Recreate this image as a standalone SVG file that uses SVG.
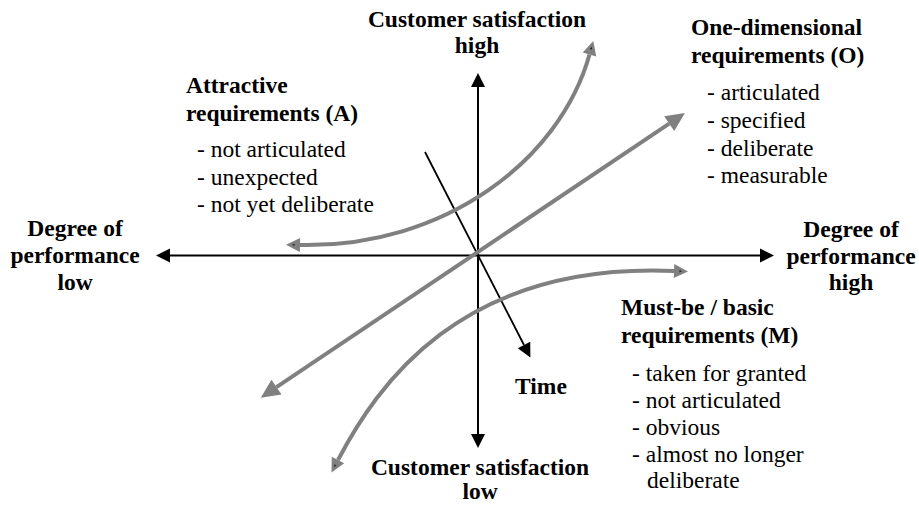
<svg xmlns="http://www.w3.org/2000/svg" width="919" height="505" viewBox="0 0 919 505" font-family="'Liberation Serif', 'DejaVu Serif', 'Noto Serif', serif">
  <style>
    text { font-family: 'Liberation Serif', 'DejaVu Serif', 'Noto Serif', serif; font-size: 23.5px; fill: #000; }
    .b { font-weight: bold; }
    .c { text-anchor: middle; }
    .ax { stroke: #000; stroke-width: 2; fill: none; }
    .tm { stroke: #000; stroke-width: 1.8; fill: none; }
    .g { stroke: #808080; stroke-width: 4; fill: none; }
  </style>
  <defs>
    <marker id="blk" markerUnits="userSpaceOnUse" markerWidth="16" markerHeight="16" viewBox="0 -8 15 16" refX="0" refY="0" orient="auto-start-reverse">
      <path d="M0,-7 L14,0 L0,7 Z" fill="#000"/>
    </marker>
    <marker id="gry" markerUnits="userSpaceOnUse" markerWidth="18" markerHeight="18" viewBox="-1 -9 17 18" refX="0" refY="0" orient="auto-start-reverse">
      <path d="M0,-7 L14,0 L0,7 Z" fill="#808080"/>
      <path d="M5.5,-1.2 L8,0 L5.5,1.2 Z" fill="#222"/>
    </marker>
    <marker id="gryL" markerUnits="userSpaceOnUse" markerWidth="22" markerHeight="22" viewBox="-1 -11 21 22" refX="0" refY="0" orient="auto-start-reverse">
      <path d="M0,-9 L19,0 L0,9 Z" fill="#808080"/>
    </marker>
  </defs>

  <g id="connectors">
    <line id="axis-h" class="ax" x1="170" y1="255.5" x2="760" y2="255.5" marker-start="url(#blk)" marker-end="url(#blk)"/>
    <line id="axis-v" class="ax" x1="478" y1="87" x2="478" y2="434" marker-start="url(#blk)" marker-end="url(#blk)"/>
    <line id="time-axis" class="tm" x1="425" y1="152" x2="524" y2="345" marker-end="url(#blk)"/>
    <line id="curve-O" class="g" x1="276.5" y1="387.1" x2="669.2" y2="123.6" marker-start="url(#gryL)" marker-end="url(#gryL)"/>
    <path id="curve-A" class="g" d="M300,245 C445,248 560,160 589.5,54.5" marker-start="url(#gry)" marker-end="url(#gry)"/>
    <path id="curve-M" class="g" d="M338,460 C377,386 460,262 674,271" marker-start="url(#gry)" marker-end="url(#gry)"/>
  </g>

  <g id="label-sat-high">
    <text class="b c" x="477" y="27">Customer satisfaction</text>
    <text class="b c" x="477" y="53">high</text>
  </g>
  <g id="label-sat-low">
    <text class="b c" x="480" y="475">Customer satisfaction</text>
    <text class="b c" x="480" y="499">low</text>
  </g>
  <g id="label-perf-low">
    <text class="b c" x="75" y="236">Degree of</text>
    <text class="b c" x="75" y="263">performance</text>
    <text class="b c" x="75" y="290">low</text>
  </g>
  <g id="label-perf-high">
    <text class="b c" x="851" y="237">Degree of</text>
    <text class="b c" x="851" y="264">performance</text>
    <text class="b c" x="851" y="290">high</text>
  </g>
  <g id="label-time">
    <text class="b c" x="541" y="394">Time</text>
  </g>
  <g id="node-A">
    <text class="b" x="186" y="93">Attractive</text>
    <text class="b" x="186" y="121">requirements (A)</text>
    <text x="197" y="157">- not articulated</text>
    <text x="197" y="185">- unexpected</text>
    <text x="197" y="212">- not yet deliberate</text>
  </g>
  <g id="node-O">
    <text class="b" x="691" y="35">One-dimensional</text>
    <text class="b" x="691" y="63">requirements (O)</text>
    <text x="707" y="100">- articulated</text>
    <text x="707" y="128">- specified</text>
    <text x="707" y="156">- deliberate</text>
    <text x="707" y="183">- measurable</text>
  </g>
  <g id="node-M">
    <text class="b" x="621" y="315">Must-be / basic</text>
    <text class="b" x="621" y="343">requirements (M)</text>
    <text x="632" y="381">- taken for granted</text>
    <text x="632" y="408">- not articulated</text>
    <text x="632" y="435">- obvious</text>
    <text x="632" y="462">- almost no longer</text>
    <text x="647" y="488">deliberate</text>
  </g>
</svg>
